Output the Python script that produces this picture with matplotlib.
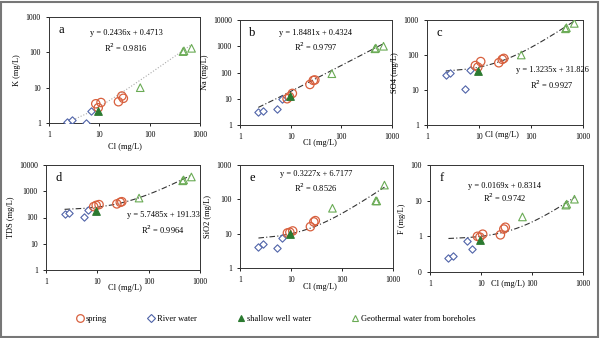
import numpy as np
import matplotlib
matplotlib.use('Agg')
import matplotlib.pyplot as plt
from matplotlib.ticker import FuncFormatter, FixedLocator
from matplotlib.patches import Rectangle
from matplotlib.lines import Line2D

plt.rcParams['font.family'] = ['Liberation Serif', 'DejaVu Serif']

# Cl concentrations (mg/L)
cl_spring = [8.5, 9.5, 10.8, 24, 28, 30]
cl_river = [2.3, 2.8, 5.4, 6.7]
cl_well = [9.5]
cl_geo = [65, 460, 480, 680]

# panel values (mg/L)
k_spring = [3.5, 2.7, 3.8, 4.0, 5.8, 5.0]
k_river = [1.05, 1.2, 1.0, 2.2]
k_well = [2.2]
k_geo = [10, 105, 110, 130]

na_spring = [10, 12, 16, 35, 50, 52]
na_river = [3.2, 3.5, 4.2, 10]
na_well = [13]
na_geo = [90, 800, 850, 1000]

so4_spring = [50, 45, 65, 60, 75, 80]
so4_river = [27, 31, 10.5, 37]
so4_well = [35]
so4_geo = [100, 560, 600, 800]

tds_spring = [260, 290, 310, 330, 380, 400]
tds_river = [140, 150, 105, 200]
tds_well = [180]
tds_geo = [550, 2500, 2700, 3500]

sio2_spring = [10.5, 11, 12, 16, 22, 24]
sio2_river = [4.0, 5.0, 3.8, 7.5]
sio2_well = [10]
sio2_geo = [55, 90, 90, 260]

f_spring = [1.0, 0.95, 1.15, 1.1, 1.6, 1.8]
f_river = [0.25, 0.28, 0.74, 0.44]
f_well = [0.8]
f_geo = [3.5, 7.5, 8, 11]

# trend line coefficients shown on the chart
slopes = [0.2436, 1.8481, 1.3235, 5.7485, 0.3227, 0.0169]
intercepts = [0.4713, 0.4324, 31.826, 191.33, 6.7177, 0.8314]
r2 = ['0.9816', '0.9797', '0.9927', '0.9964', '0.8526', '0.9742']
eq_b = ['0.4713', '0.4324', '31.826', '191.33', '6.7177', '0.8314']
letters = ['a', 'b', 'c', 'd', 'e', 'f']
ylabels = ['K (mg/L)', 'Na (mg/L)', 'SO4 (mg/L)', 'TDS (mg/L)', 'SiO2 (mg/L)', 'F (mg/L)']
ylims = [(1, 1000), (1, 10000), (1, 1000), (1, 10000), (1, 1000), (0.1, 100)]

panels = [
    (k_spring, k_river, k_well, k_geo),
    (na_spring, na_river, na_well, na_geo),
    (so4_spring, so4_river, so4_well, so4_geo),
    (tds_spring, tds_river, tds_well, tds_geo),
    (sio2_spring, sio2_river, sio2_well, sio2_geo),
    (f_spring, f_river, f_well, f_geo),
]

W, H = 600, 338
# axes boxes in pixels: left, right, top, bottom
boxes = [(49, 200, 17, 123), (240, 392, 20, 125), (427, 583, 20, 125),
         (46, 200, 165, 270), (240, 393, 165, 268), (430, 583, 165, 272)]
# equation text centers (px) and x-label positions (px)
eq_pos = [(126, 33, 48), (316, 33, 47), (552, 70, 85),
          (163, 215, 230), (316, 174, 188), (505, 186, 198)]
xl_pos = [(125, 147), (320, 143), (502, 135), (125, 288), (320, 287), (508, 284)]

c_spring = '#d8603e'
c_river = '#4f63a8'
c_well = '#2b7a30'
c_geo = '#6aab55'

fig = plt.figure(figsize=(6, 3.38), dpi=100)
fig.patches.append(Rectangle((0.002, 0.004), 0.995, 0.99, transform=fig.transFigure,
                             fill=False, edgecolor='#777777', linewidth=1.5))

fmt = FuncFormatter(lambda v, p: '%g' % v)
line_x = np.linspace(min(cl_river), max(cl_geo), 200)

for i, (sp, rv, wl, gt) in enumerate(panels):
    l, r, t, b = boxes[i]
    ax = fig.add_axes([l / W, 1 - b / H, (r - l) / W, (b - t) / H])
    ax.set_xscale('log')
    ax.set_yscale('log')
    ax.set_xlim(1, 1000)
    ax.set_ylim(*ylims[i])

    ls = ':' if i == 0 else (0, (5, 2, 1, 2))
    lc = '#aaaaaa' if i == 0 else '#333333'
    ax.plot(line_x, slopes[i] * line_x + intercepts[i], ls=ls, color=lc, lw=0.8, zorder=1)

    ax.scatter(cl_river, rv, marker='D', s=14, facecolors='white', edgecolors=c_river, linewidths=0.8, zorder=3)
    ax.scatter(cl_spring, sp, marker='o', s=36, facecolors='none', edgecolors=c_spring, linewidths=0.9, zorder=3)
    ax.scatter(cl_geo, gt, marker='^', s=30, facecolors='none', edgecolors=c_geo, linewidths=0.8, zorder=3)
    ax.scatter(cl_well, wl, marker='^', s=30, facecolors=c_well, edgecolors=c_well, linewidths=0.8, zorder=4)

    ax.xaxis.set_major_locator(FixedLocator([1, 10, 100, 1000]))
    ax.xaxis.set_major_formatter(fmt)
    ax.xaxis.set_minor_locator(FixedLocator([]))
    lo, hi = ylims[i]
    yt = [lo * 10 ** k for k in range(int(round(np.log10(hi / lo))) + 1)]
    ax.yaxis.set_major_locator(FixedLocator(yt))
    ax.yaxis.set_minor_locator(FixedLocator([]))
    if i == 5:
        ax.set_yticklabels(['0', '1', '10', '100'])
    else:
        ax.yaxis.set_major_formatter(fmt)
    ax.tick_params(labelsize=5.5, length=2, width=0.6, pad=4)
    for s in ax.spines.values():
        s.set_linewidth(0.7)
        s.set_color('#333333')

    ax.set_ylabel(ylabels[i], fontsize=6, labelpad=3)
    ax.text(0.06, 0.93, letters[i], transform=ax.transAxes, fontsize=9, va='top', ha='left')

    ex, ey1, ey2 = eq_pos[i]
    fig.text(ex / W, 1 - ey1 / H, 'y = %.4fx + %s' % (slopes[i], eq_b[i]),
             fontsize=6, ha='center', va='center')
    fig.text(ex / W, 1 - ey2 / H, 'R$^2$ = %s' % r2[i], fontsize=6, ha='center', va='center')
    xx, xy = xl_pos[i]
    fig.text(xx / W, 1 - xy / H, 'Cl (mg/L)', fontsize=6, ha='center', va='center')

handles = [
    Line2D([], [], ls='none', marker='o', ms=5.5, mfc='none', mec=c_spring, mew=0.9),
    Line2D([], [], ls='none', marker='D', ms=3.8, mfc='white', mec=c_river, mew=0.8),
    Line2D([], [], ls='none', marker='^', ms=5, mfc=c_well, mec=c_well, mew=0.8),
    Line2D([], [], ls='none', marker='^', ms=5, mfc='none', mec=c_geo, mew=0.8),
]
labels = ['spring', 'River water', 'shallow well water', 'Geothermal water from boreholes']
fig.legend(handles, labels, loc='center', bbox_to_anchor=(275 / W, 1 - 319 / H), ncol=4,
           frameon=False, fontsize=6, handletextpad=0.1, handlelength=1.2, columnspacing=4.7)

fig.savefig('out.png', dpi=100)
